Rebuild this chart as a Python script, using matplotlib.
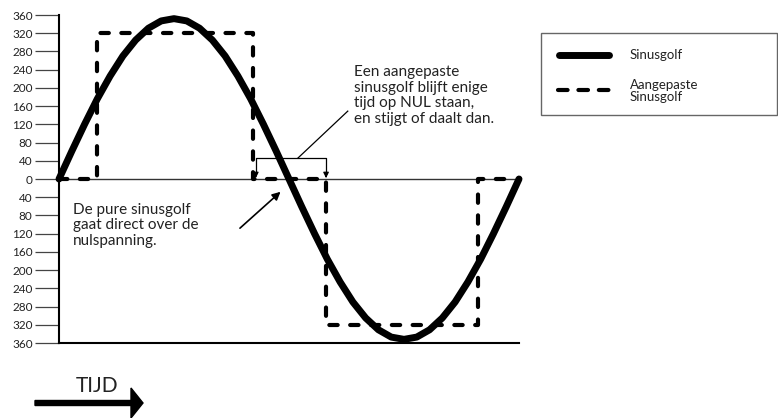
import matplotlib.pyplot as plt
from matplotlib.lines import Line2D
from matplotlib.patches import Rectangle, FancyArrow

plt.rcParams['font.family'] = ['Lato', 'DejaVu Sans']

sine_x = [0, 10, 20, 30, 40, 50, 60, 70, 80, 90, 100, 110, 120, 130, 140, 150, 160, 170, 180,
          190, 200, 210, 220, 230, 240, 250, 260, 270, 280, 290, 300, 310, 320, 330, 340, 350, 360]
sine_y = [0, 61, 120, 176, 226, 270, 305, 331, 347, 352, 347, 331, 305, 270, 226, 176, 120, 61, 0,
          -61, -120, -176, -226, -270, -305, -331, -347, -352, -347, -331, -305, -270, -226, -176, -120, -61, 0]

# aangepaste sinusgolf (blokvorm met nul-pauze)
mod_x = [0, 30, 30, 152, 152, 209, 209, 328, 328, 350]
mod_y = [0, 0, 320, 320, 0, 0, -320, -320, 0, 0]

yticks = [360, 320, 280, 240, 200, 160, 120, 80, 40, 0, -40, -80, -120, -160, -200, -240, -280, -320, -360]
ylabels = [str(abs(v)) for v in yticks]

W, H = 778, 418
fig = plt.figure(figsize=(W / 100, H / 100), dpi=100)
ax = fig.add_axes([59 / W, 1 - 343 / H, 460 / W, 328 / H])
ax.set_xlim(0, 360)
ax.set_ylim(-360, 360)

ax.axhline(0, color='#333', lw=1, zorder=1)
ax.plot(sine_x, sine_y, color='black', lw=5, solid_capstyle='round', clip_on=False, zorder=3)
ax.plot(mod_x, mod_y, color='black', lw=3, linestyle=(0, (2.0, 3.0)), dash_capstyle='round',
        clip_on=False, zorder=2)

for s in ['top', 'right']:
    ax.spines[s].set_visible(False)
ax.spines['left'].set_linewidth(1.5)
ax.spines['bottom'].set_linewidth(1.5)
ax.set_xticks([])
ax.set_yticks(yticks)
ax.set_yticklabels(ylabels, fontsize=8.5, color='#222')
ax.tick_params(axis='y', length=17, width=0.9, color='#444', pad=2)

txt_kw = dict(fontsize=11, color='#222', linespacing=1.15)
ax.text(231, 250, 'Een aangepaste\nsinusgolf blijft enige\ntijd op NUL staan,\nen stijgt of daalt dan.',
        ha='left', va='top', **txt_kw)
ax.text(11, -52, 'De pure sinusgolf\ngaat direct over de\nnulspanning.', ha='left', va='top', **txt_kw)

# haakje boven de nul-pauze
ax.plot([154, 154, 209, 209], [10, 46, 46, 10], color='black', lw=0.9, zorder=4)
for bx in [154, 209]:
    ax.annotate('', xy=(bx, 2), xytext=(bx, 14),
                arrowprops=dict(arrowstyle='-|>', color='black', lw=0.9, mutation_scale=8))
ax.plot([187, 226], [46, 149], color='black', lw=0.9)
ax.annotate('', xy=(175, -24), xytext=(140, -112),
            arrowprops=dict(arrowstyle='-|>', color='black', lw=1.2, mutation_scale=12))

# legenda
fig.add_artist(Rectangle((541 / W, 1 - 115 / H), 236 / W, 82 / H, transform=fig.transFigure,
                         fill=False, edgecolor='#666', lw=1))
fig.add_artist(Line2D([559 / W, 609 / W], [1 - 55 / H] * 2, transform=fig.transFigure,
                      color='black', lw=5, solid_capstyle='round'))
fig.add_artist(Line2D([558 / W, 612 / W], [1 - 90 / H] * 2, transform=fig.transFigure,
                      color='black', lw=3, linestyle=(0, (2.3, 2.6)), dash_capstyle='round'))
fig.text(630 / W, 1 - 55 / H, 'Sinusgolf', fontsize=9.5, color='#222', va='center')
fig.text(630 / W, 1 - 91 / H, 'Aangepaste\nSinusgolf', fontsize=9.5, color='#222', va='center',
         linespacing=1.05)

# TIJD-pijl
fig.text(76 / W, 1 - 392 / H, 'TIJD', fontsize=15, color='#222', va='baseline')
fig.add_artist(FancyArrow(35 / W, 1 - 403 / H, 96 / W, 0, width=5 / H, head_width=30 / H,
                          head_length=12 / W, length_includes_head=False, transform=fig.transFigure,
                          color='black'))

fig.savefig('out.png', dpi=100)
